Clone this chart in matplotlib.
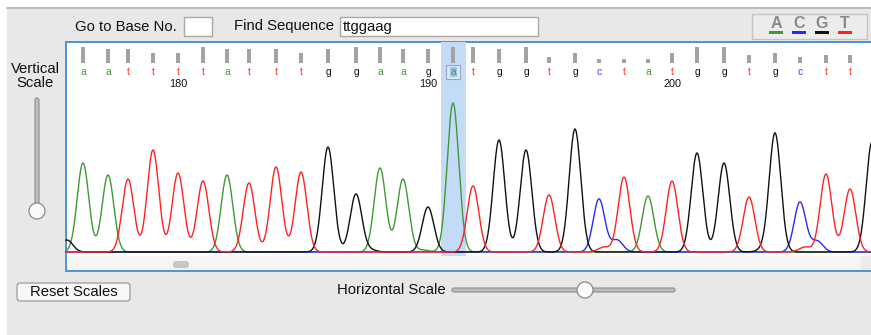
import numpy as np
import matplotlib.pyplot as plt
from matplotlib.patches import Rectangle, FancyBboxPatch, Circle

# called bases, starting at base 176
bases = list("aattttatttggaagatggtgctatggtgctt")
first_base = 176
# peak positions (scan px from panel left) and peak heights
peak_pos = [17, 42, 62, 87, 112, 137, 161, 183, 210, 235, 262, 290, 314, 337,
            362, 387, 407, 433, 460, 483, 509, 533, 558, 582, 606, 631, 658,
            683, 709, 734, 760, 784, 806]
peak_base = list("aattttatttggaagatggtgctatggtgcttg")
peak_height = [89, 77, 73, 102, 79, 71, 77, 69, 85, 80, 105, 58, 84, 73, 45,
               149, 66, 112, 102, 57, 123, 53, 75, 56, 71, 99, 89, 55, 119, 50,
               78, 63, 110]
# minor shoulders / noise peaks: (base, position, height)
minor_peaks = [("c", 551, 12), ("t", 538, 5), ("c", 751, 11), ("t", 739, 5),
               ("g", 1, 12), ("g", 305, 2), ("a", 357, 2), ("g", 696, 2)]
quality = [40, 33, 33, 25, 25, 40, 33, 33, 33, 25, 33, 40, 40, 33, 33, 40, 40,
           33, 40, 15, 25, 10, 10, 10, 23, 40, 40, 20, 25, 13, 18, 18]
selected = 15

trace_col = {"a": "#3f9a34", "c": "#2a2aff", "g": "#111111", "t": "#ff2222"}
letter_col = {"a": "#4f9a3a", "c": "#4040ff", "g": "#111111", "t": "#ff3030"}

W, H = 871, 335
fig = plt.figure(figsize=(W / 100, H / 100), dpi=100)
fig.patch.set_facecolor("white")
ui = fig.add_axes([0, 0, 1, 1])
ui.set_xlim(0, W)
ui.set_ylim(H, 0)
ui.axis("off")

font = "Liberation Sans"
fs = 10.7

# window background
ui.add_patch(Rectangle((7, 7), W, H, facecolor="#e8e8e8", edgecolor="none"))
ui.plot([7, W], [7.5, 7.5], color="#b4b4b4", lw=1.2)

# top controls
ui.text(75, 27, "Go to Base No.", fontsize=fs, family=font, va="center", color="#111")
ui.add_patch(Rectangle((184, 17), 28, 19, facecolor="white", edgecolor="#a8a8a8", lw=1))
ui.text(234, 26, "Find Sequence", fontsize=fs, family=font, va="center", color="#111")
ui.add_patch(Rectangle((340, 17), 198, 19, facecolor="white", edgecolor="#a8a8a8", lw=1))
ui.text(343, 27, "ttggaag", fontsize=fs, family=font, va="center", color="#111")

# legend box
ui.add_patch(Rectangle((752, 14), 115, 25, facecolor="#ececec", edgecolor="#c4c4c4", lw=1))
for i, b in enumerate("ACGT"):
    x = 776 + i * 23
    ui.text(x, 23, b, fontsize=11.5, family=font, weight="bold", ha="center",
            va="center", color="#8a8a8a")
    ui.add_patch(Rectangle((x - 7, 31), 14, 3, facecolor=trace_col[b.lower()],
                           edgecolor="none"))

# vertical scale
ui.text(35, 76, "Vertical\nScale", fontsize=fs, family=font, ha="center",
        va="center", color="#111", linespacing=1.0)
ui.add_patch(FancyBboxPatch((35, 98), 4, 112, boxstyle="round,pad=0,rounding_size=2",
                            facecolor="#bdbdbd", edgecolor="#8e8e8e", lw=0.8))
ui.add_patch(Circle((37, 211), 8, facecolor="#fafafa", edgecolor="#8a8a8a", lw=0.9))

# panel
ui.add_patch(Rectangle((66, 42), W, 229, facecolor="white", edgecolor="#4f93d2", lw=1.4))
ui.add_patch(Rectangle((67, 256), 794, 14, facecolor="#f5f5f5", edgecolor="none"))
ui.add_patch(Rectangle((861, 256), 12, 14, facecolor="#ebebeb", edgecolor="none"))
ui.add_patch(FancyBboxPatch((173, 261), 16, 7, boxstyle="round,pad=0,rounding_size=3.5",
                            facecolor="#c6c6c6", edgecolor="none"))

# bottom controls
ui.add_patch(FancyBboxPatch((17, 283), 113, 18, boxstyle="round,pad=0,rounding_size=3",
                            facecolor="#f7f7f7", edgecolor="#9a9a9a", lw=0.9))
ui.text(74, 292, "Reset Scales", fontsize=fs, family=font, ha="center",
        va="center", color="#111")
ui.text(337, 290, "Horizontal Scale", fontsize=fs, family=font, va="center", color="#111")
ui.add_patch(FancyBboxPatch((452, 288), 223, 4, boxstyle="round,pad=0,rounding_size=2",
                            facecolor="#bdbdbd", edgecolor="#8e8e8e", lw=0.8))
ui.add_patch(Circle((585, 290), 8, facecolor="#fafafa", edgecolor="#8a8a8a", lw=0.9))

# trace axes: x in scan px from panel left, y in px above baseline
x0, top, bot = 66, 42, 256
tr = fig.add_axes([x0 / W, (H - bot) / H, (W - x0) / W, (bot - top) / H])
tr.set_xlim(0, W - x0)
tr.set_ylim(-4, 210)
tr.axis("off")
tr.patch.set_alpha(0)

sel_x = peak_pos[selected]
tr.axvspan(sel_x - 12.5, sel_x + 12.5, color="#c4dbf7", zorder=0, lw=0)

xs = np.linspace(0, W - x0 + 10, 3000)
sigma = 5.8
for b in "acgt":
    y = np.zeros_like(xs)
    for p, h, pb in zip(peak_pos, peak_height, peak_base):
        if pb == b:
            y += h * np.exp(-0.5 * ((xs - p) / sigma) ** 2)
    for mb, p, h in minor_peaks:
        if mb == b:
            y += h * np.exp(-0.5 * ((xs - p) / sigma) ** 2)
    tr.plot(xs, y, color=trace_col[b], lw=1.0, zorder=2, clip_on=False)

# quality bars, letters and base numbers
for i, b in enumerate(bases):
    x = peak_pos[i]
    tr.add_patch(Rectangle((x - 2, 189.5), 4, quality[i] * 0.4,
                           facecolor="#a3a3a3", edgecolor="none"))
    if i == selected:
        tr.add_patch(Rectangle((x - 7, 173), 14, 14, facecolor="#dbe8f8",
                               edgecolor="#9aa6b4", lw=0.8, zorder=3))
        tr.add_patch(Rectangle((x - 3.5, 175), 7, 10, facecolor="#9ec2f0",
                               edgecolor="none", zorder=3))
    tr.text(x, 180, b, fontsize=7.5, family=font, ha="center", va="center",
            color=letter_col[b], zorder=4)
    n = first_base + i
    if n % 10 == 0:
        tr.text(x, 168, str(n), fontsize=7.8, family=font, ha="center",
                va="center", color="#111")

fig.savefig("out.png", dpi=100)
